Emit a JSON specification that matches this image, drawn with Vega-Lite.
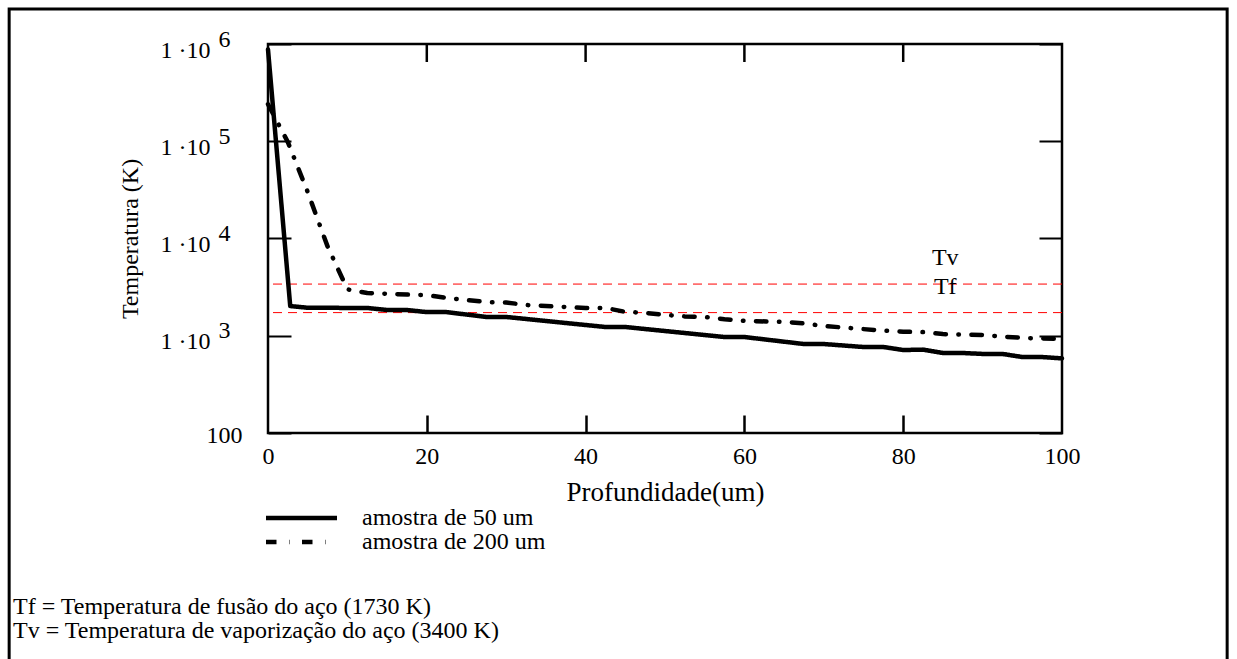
{
  "$schema": "https://vega.github.io/schema/vega-lite/v6.json",
  "width": 794,
  "height": 389,
  "autosize": {"type": "none"},
  "padding": {"left": 268, "top": 44, "right": 175, "bottom": 226},
  "background": "white",
  "config": {
    "font": "Liberation Serif",
    "view": {"stroke": "black", "strokeWidth": 2.5},
    "axis": {
      "labelFont": "Liberation Serif", "labelFontSize": 24, "labelColor": "black",
      "titleFont": "Liberation Serif", "titleFontSize": 24, "titleFontWeight": "normal", "titleColor": "black",
      "tickColor": "black", "tickWidth": 2, "domain": false, "grid": false,
      "labelFlush": false, "labelOverlap": false, "labelBound": false
    }
  },
  "title": {
    "text": ["Tf = Temperatura de fusão do aço (1730 K)", "Tv = Temperatura de vaporização do aço (3400 K)"],
    "orient": "bottom", "anchor": "start", "frame": "group",
    "font": "Liberation Serif", "fontSize": 24, "fontWeight": "normal", "color": "black",
    "lineHeight": 24, "dx": -255, "dy": -85, "offset": 0
  },
  "datasets": {
    "curves": [
      {"depth": 0, "temp": 880000, "series": "amostra de 50 um"},
      {"depth": 2.8, "temp": 2020, "series": "amostra de 50 um"},
      {"depth": 5, "temp": 1940, "series": "amostra de 50 um"},
      {"depth": 12.5, "temp": 1930, "series": "amostra de 50 um"},
      {"depth": 15, "temp": 1840, "series": "amostra de 50 um"},
      {"depth": 17.5, "temp": 1840, "series": "amostra de 50 um"},
      {"depth": 20, "temp": 1750, "series": "amostra de 50 um"},
      {"depth": 22.5, "temp": 1750, "series": "amostra de 50 um"},
      {"depth": 27.5, "temp": 1560, "series": "amostra de 50 um"},
      {"depth": 30, "temp": 1560, "series": "amostra de 50 um"},
      {"depth": 42.5, "temp": 1230, "series": "amostra de 50 um"},
      {"depth": 45, "temp": 1230, "series": "amostra de 50 um"},
      {"depth": 57.5, "temp": 970, "series": "amostra de 50 um"},
      {"depth": 60, "temp": 970, "series": "amostra de 50 um"},
      {"depth": 67.5, "temp": 822, "series": "amostra de 50 um"},
      {"depth": 70, "temp": 822, "series": "amostra de 50 um"},
      {"depth": 75, "temp": 766, "series": "amostra de 50 um"},
      {"depth": 77.5, "temp": 766, "series": "amostra de 50 um"},
      {"depth": 80, "temp": 713, "series": "amostra de 50 um"},
      {"depth": 82.5, "temp": 720, "series": "amostra de 50 um"},
      {"depth": 85, "temp": 665, "series": "amostra de 50 um"},
      {"depth": 87.5, "temp": 665, "series": "amostra de 50 um"},
      {"depth": 90, "temp": 650, "series": "amostra de 50 um"},
      {"depth": 92.5, "temp": 650, "series": "amostra de 50 um"},
      {"depth": 95, "temp": 604, "series": "amostra de 50 um"},
      {"depth": 97.5, "temp": 604, "series": "amostra de 50 um"},
      {"depth": 100, "temp": 585, "series": "amostra de 50 um"},
      {"depth": 0, "temp": 240000, "series": "amostra de 200 um"},
      {"depth": 2.5, "temp": 98000, "series": "amostra de 200 um"},
      {"depth": 5, "temp": 30000, "series": "amostra de 200 um"},
      {"depth": 7.5, "temp": 8300, "series": "amostra de 200 um"},
      {"depth": 10, "temp": 3000, "series": "amostra de 200 um"},
      {"depth": 12.5, "temp": 2750, "series": "amostra de 200 um"},
      {"depth": 17.5, "temp": 2650, "series": "amostra de 200 um"},
      {"depth": 20, "temp": 2620, "series": "amostra de 200 um"},
      {"depth": 22.5, "temp": 2450, "series": "amostra de 200 um"},
      {"depth": 27.5, "temp": 2220, "series": "amostra de 200 um"},
      {"depth": 30, "temp": 2200, "series": "amostra de 200 um"},
      {"depth": 32.5, "temp": 2070, "series": "amostra de 200 um"},
      {"depth": 40, "temp": 1930, "series": "amostra de 200 um"},
      {"depth": 42.5, "temp": 1930, "series": "amostra de 200 um"},
      {"depth": 45, "temp": 1760, "series": "amostra de 200 um"},
      {"depth": 47.5, "temp": 1720, "series": "amostra de 200 um"},
      {"depth": 50, "temp": 1640, "series": "amostra de 200 um"},
      {"depth": 52.5, "temp": 1580, "series": "amostra de 200 um"},
      {"depth": 55, "temp": 1560, "series": "amostra de 200 um"},
      {"depth": 57.5, "temp": 1480, "series": "amostra de 200 um"},
      {"depth": 60, "temp": 1420, "series": "amostra de 200 um"},
      {"depth": 65, "temp": 1390, "series": "amostra de 200 um"},
      {"depth": 67.5, "temp": 1340, "series": "amostra de 200 um"},
      {"depth": 70, "temp": 1260, "series": "amostra de 200 um"},
      {"depth": 75, "temp": 1170, "series": "amostra de 200 um"},
      {"depth": 77.5, "temp": 1130, "series": "amostra de 200 um"},
      {"depth": 80, "temp": 1100, "series": "amostra de 200 um"},
      {"depth": 82.5, "temp": 1090, "series": "amostra de 200 um"},
      {"depth": 85, "temp": 1040, "series": "amostra de 200 um"},
      {"depth": 90, "temp": 1020, "series": "amostra de 200 um"},
      {"depth": 92.5, "temp": 980, "series": "amostra de 200 um"},
      {"depth": 95, "temp": 950, "series": "amostra de 200 um"},
      {"depth": 100, "temp": 925, "series": "amostra de 200 um"}
    ],
    "limits": [
      {"name": "Tf", "value": 1730},
      {"name": "Tv", "value": 3400}
    ],
    "topticks": [
      {"depth": 20}, {"depth": 40}, {"depth": 60}, {"depth": 80}
    ]
  },
  "layer": [
    {
      "data": {"values": [{}]},
      "mark": {"type": "rect", "filled": false, "stroke": "black", "strokeWidth": 3, "clip": false},
      "encoding": {
        "x": {
          "datum": -32.6, "type": "quantitative", "scale": {"domain": [0, 100], "nice": false, "zero": false},
          "axis": {"orient": "bottom", "values": [20, 40, 60, 80], "offset": -18, "ticks": true, "tickSize": 18, "tickWidth": 2.5, "tickColor": "black", "labels": false, "title": null}
        },
        "x2": {"datum": 120.8},
        "y": {"datum": 2290000, "type": "quantitative", "scale": {"type": "log", "domain": [100, 1000000], "nice": false}, "axis": null},
        "y2": {"datum": 0.3}
      }
    },
    {
      "data": {"name": "limits"},
      "mark": {"type": "rule", "stroke": "#ff0000", "strokeWidth": 1, "strokeDash": [9, 6]},
      "encoding": {
        "y": {
          "field": "value", "type": "quantitative",
          "scale": {"type": "log", "domain": [100, 1000000], "nice": false},
          "axis": {
            "orient": "left", "values": [100, 1000, 10000, 100000, 1000000],
            "ticks": false, "title": null, "labelPadding": 38, "labelOffset": -5,
            "labelExpr": "datum.value >= 1000 ? '' + round(log(datum.value) / LN10) : ''"
          }
        }
      }
    },
    {
      "data": {"name": "curves"},
      "mark": {"type": "line", "color": "black", "strokeWidth": 4.5, "strokeCap": "round", "strokeJoin": "round"},
      "encoding": {
        "x": {
          "field": "depth", "type": "quantitative",
          "scale": {"domain": [0, 100], "nice": false, "zero": false},
          "axis": {
            "orient": "bottom", "values": [0, 20, 40, 60, 80, 100], "ticks": false,
            "labelPadding": 11, "title": "Profundidade(um)", "titleFontSize": 27, "titleX": 397, "titleY": 59, "titleBaseline": "middle"
          }
        },
        "y": {
          "field": "temp", "type": "quantitative",
          "scale": {"type": "log", "domain": [100, 1000000], "nice": false},
          "axis": {
            "orient": "left", "values": [100, 1000, 10000, 100000, 1000000], "tickSize": -23,
            "labelExpr": "datum.value == 100 ? '100' : '1 ·10'",
            "labelPadding": {"condition": {"test": "datum.value == 100", "value": 49}, "value": 81},
            "labelOffset": {"condition": {"test": "datum.value == 100", "value": 2}, "value": 6},
            "title": "Temperatura (K)", "titleX": -138, "titleY": 194.5, "titleBaseline": "middle", "titleAngle": 270
          }
        },
        "strokeDash": {
          "field": "series", "type": "nominal",
          "scale": {"domain": ["amostra de 50 um", "amostra de 200 um"], "range": [[1, 0], [10.5, 12.5, 0.5, 12.5]]},
          "legend": {
            "orient": "none", "legendX": 21.5, "legendY": 462, "title": null,
            "symbolType": "M-7.1,0H7.1", "symbolSize": 100, "symbolStrokeWidth": 4.5, "symbolStrokeColor": "black",
            "labelFont": "Liberation Serif", "labelFontSize": 24, "labelColor": "black", "labelOffset": 48.5, "labelLimit": 400,
            "rowPadding": -2, "padding": 0
          }
        }
      }
    },
    {
      "data": {"name": "limits"},
      "mark": {"type": "text", "font": "Liberation Serif", "fontSize": 24, "color": "black", "align": "center", "baseline": "middle", "dy": -26},
      "encoding": {
        "x": {
          "datum": 85.3, "type": "quantitative",
          "scale": {"domain": [0, 100], "nice": false, "zero": false},
          "axis": null
        },
        "y": {
          "field": "value", "type": "quantitative",
          "scale": {"type": "log", "domain": [100, 1000000], "nice": false},
          "axis": {"orient": "right", "values": [100, 1000, 10000, 100000, 1000000], "tickSize": -23, "labels": false, "title": null}
        },
        "text": {"field": "name", "type": "nominal"}
      }
    },
    {
      "data": {"name": "topticks"},
      "mark": {"type": "tick", "color": "black", "size": 18, "thickness": 2.5, "yOffset": -185.5, "opacity": 1},
      "encoding": {
        "x": {"field": "depth", "type": "quantitative", "scale": {"domain": [0, 100], "nice": false, "zero": false}, "axis": null}
      }
    }
  ],
  "resolve": {"axis": {"x": "independent", "y": "independent"}}
}
